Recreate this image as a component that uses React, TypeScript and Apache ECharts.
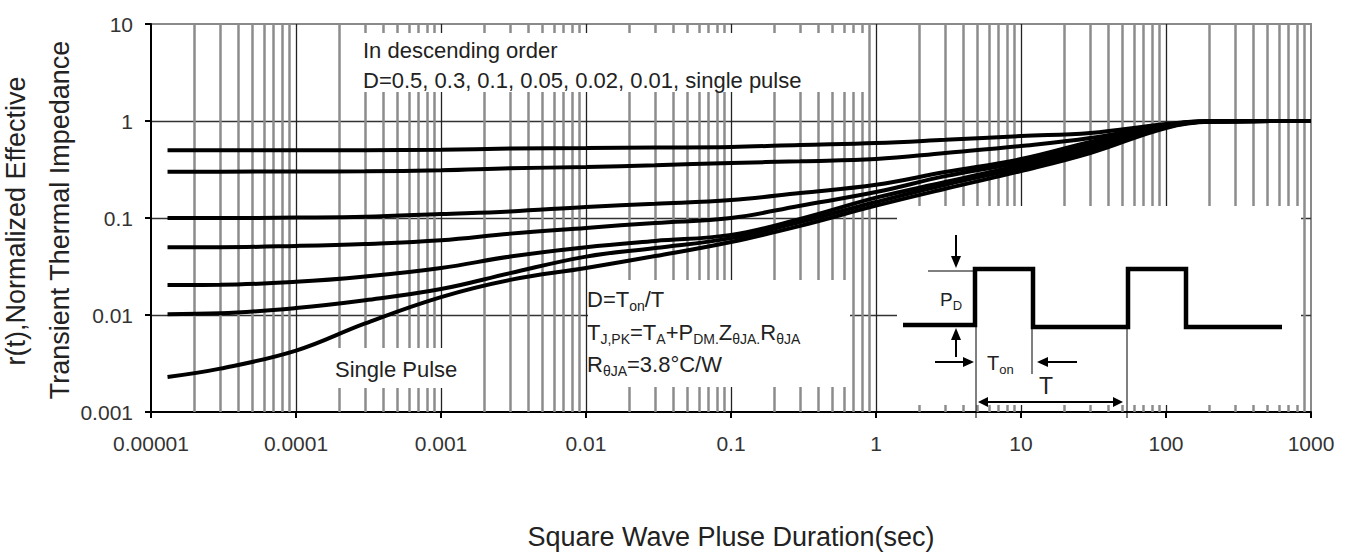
import React, { useEffect, useRef } from "react";
import * as echarts from "echarts";

// ---- data ----
const T = [1.3e-5, 3e-5, 1e-4, 3e-4, 1e-3, 3e-3, 1e-2, 3e-2, 0.1, 0.3, 1, 3, 10, 30, 100, 200, 1000];
const D05 = [0.5, 0.5, 0.5, 0.5, 0.505, 0.52, 0.527, 0.533, 0.54, 0.566, 0.593, 0.64, 0.7, 0.752, 0.93, 1.0, 1.0];
const D03 = [0.3, 0.3, 0.302, 0.303, 0.31, 0.325, 0.336, 0.35, 0.369, 0.385, 0.405, 0.468, 0.552, 0.668, 0.91, 0.99, 1.0];
const D01 = [0.1, 0.1, 0.101, 0.103, 0.11, 0.117, 0.13, 0.14, 0.153, 0.181, 0.22, 0.298, 0.405, 0.608, 0.91, 0.99, 1.0];
const D005 = [0.05, 0.05, 0.0515, 0.054, 0.059, 0.069, 0.079, 0.089, 0.1, 0.134, 0.185, 0.27, 0.378, 0.566, 0.89, 0.99, 1.0];
const D002 = [0.0204, 0.0205, 0.022, 0.025, 0.0305, 0.04, 0.05, 0.058, 0.067, 0.098, 0.162, 0.235, 0.352, 0.527, 0.89, 0.99, 1.0];
const D001 = [0.0102, 0.0104, 0.0118, 0.0142, 0.0185, 0.027, 0.04, 0.049, 0.062, 0.091, 0.146, 0.22, 0.33, 0.5, 0.867, 0.99, 1.0];
const SINGLE = [0.0023, 0.0028, 0.0043, 0.0082, 0.0153, 0.023, 0.0305, 0.0405, 0.0566, 0.083, 0.134, 0.2, 0.305, 0.468, 0.848, 0.98, 1.0];

const SERIES = [D05, D03, D01, D005, D002, D001, SINGLE];
const SERIES_NAMES = ["D=0.5", "D=0.3", "D=0.1", "D=0.05", "D=0.02", "D=0.01", "Single Pulse"];

const X_TICKS = ["0.00001", "0.0001", "0.001", "0.01", "0.1", "1", "10", "100", "1000"];
const Y_TICKS = ["0.001", "0.01", "0.1", "1", "10"];

const FONT = "Liberation Sans, Arial, sans-serif";

function labelFor(list: string[]) {
  return (v: number) => {
    const lv = Math.log10(v);
    const f = list.find((s) => Math.abs(Math.log10(Number(s)) - lv) < 1e-6);
    return f ?? "";
  };
}

export default function App() {
  const ref = useRef<HTMLDivElement>(null);
  useEffect(() => {
    document.body.style.margin = "0";
    if (!ref.current) return;
    const chart = echarts.init(ref.current, undefined, { renderer: "svg" });

    const minorX: number[] = [];
    for (let i = 0; i < X_TICKS.length - 1; i++) {
      const d = Number(X_TICKS[i]);
      for (let m = 2; m <= 9; m++) minorX.push(m * d);
    }

    const txt = (text: string, x: number, y: number, fontSize: number, extra: any = {}) => ({
      type: "text",
      x,
      y,
      z: 6,
      silent: true,
      style: {
        text,
        fontSize,
        fontFamily: FONT,
        fill: "#222",
        align: "left",
        verticalAlign: "middle",
        ...extra,
      },
    });
    const rich = (fs: number, ss: number) => ({
      m: { fontSize: fs, lineHeight: fs + 6, fontFamily: FONT, fill: "#222", color: "#222" },
      s: { fontSize: ss, lineHeight: 12, verticalAlign: "bottom", fontFamily: FONT, fill: "#222", color: "#222" },
    });
    const line = (x1: number, y1: number, x2: number, y2: number, w: number) => ({
      type: "line",
      z: 6,
      silent: true,
      shape: { x1, y1, x2, y2 },
      style: { stroke: "#000", lineWidth: w },
    });
    const tri = (pts: number[][]) => ({
      type: "polygon",
      z: 6,
      silent: true,
      shape: { points: pts },
      style: { fill: "#000" },
    });
    const box = (x: number, y: number, width: number, height: number) => ({
      type: "rect",
      z: 3,
      silent: true,
      shape: { x, y, width, height },
      style: { fill: "#fff" },
    });

    const option: any = {
      animation: false,
      grid: {
        left: 151,
        right: 44,
        top: 24,
        bottom: 140,
        show: true,
        borderColor: "#8a8a8a",
        borderWidth: 2,
        backgroundColor: "transparent",
      },
      xAxis: {
        type: "log",
        logBase: 10,
        min: 1e-5,
        max: 1000,
        splitNumber: 8,
        axisLine: { show: true, lineStyle: { color: "#000", width: 2 } },
        axisTick: { show: true, length: 6, lineStyle: { color: "#000", width: 2 } },
        axisLabel: { fontSize: 21, color: "#333", margin: 21, fontFamily: FONT, formatter: labelFor(X_TICKS) },
        splitLine: { show: true, showMinLine: false, showMaxLine: false, lineStyle: { color: "#222", width: 1.3 } },
      },
      yAxis: {
        type: "log",
        logBase: 10,
        min: 0.001,
        max: 10,
        splitNumber: 4,
        axisLine: { show: true, lineStyle: { color: "#000", width: 2 } },
        axisTick: { show: true, length: 6, lineStyle: { color: "#000", width: 2 } },
        axisLabel: { fontSize: 21, color: "#333", margin: 18, fontFamily: FONT, formatter: labelFor(Y_TICKS) },
        splitLine: { show: true, showMinLine: false, showMaxLine: false, lineStyle: { color: "#333", width: 1.3 } },
      },
      series: [
        {
          type: "line",
          name: "minor-grid",
          z: 1,
          silent: true,
          symbol: "none",
          data: [],
          lineStyle: { width: 0 },
          markLine: {
            z: 1,
            silent: true,
            precision: 12,
            symbol: ["none", "none"],
            label: { show: false },
            emphasis: { disabled: true },
            lineStyle: { color: "#8c8c8c", width: 2.5, type: "solid" },
            data: minorX.map((v) => ({ xAxis: v })),
          },
        },
        ...SERIES.map((vals, i) => ({
          type: "line",
          name: SERIES_NAMES[i],
          z: 5,
          silent: true,
          symbol: "none",
          smooth: 0.4,
          lineStyle: { color: "#000", width: 4 },
          data: T.map((t, j) => [t, vals[j]]),
        })),
      ],
      graphic: [
        box(352, 33, 514, 59),
        box(318, 348, 140, 40),
        box(588, 280, 262, 107),
        box(897, 206, 404, 199),

        txt("In descending order", 363, 50, 22),
        txt("D=0.5, 0.3, 0.1, 0.05, 0.02, 0.01, single pulse", 363, 80, 22),
        txt("Single Pulse", 335, 369, 22),

        txt("{m|D=T}{s|on}{m|/T}", 587, 299, 22, { rich: rich(22, 14) }),
        txt("{m|T}{s|J,PK}{m|=T}{s|A}{m|+P}{s|DM.}{m|Z}{s|θJA.}{m|R}{s|θJA}", 587, 332, 22, { rich: rich(22, 14) }),
        txt("{m|R}{s|θJA}{m|=3.8°C/W}", 587, 364, 22, { rich: rich(22, 14) }),

        // pulse diagram
        {
          type: "polyline",
          z: 6,
          silent: true,
          shape: {
            points: [
              [903, 325], [975, 325], [975, 269], [1033, 269], [1033, 327], [1128, 327],
              [1128, 269], [1186, 269], [1186, 327], [1282, 327],
            ],
          },
          style: { stroke: "#000", lineWidth: 4.5, fill: null, lineJoin: "miter" },
        },
        line(928, 271, 975, 271, 1),
        line(976, 327, 976, 418, 1),
        line(1032, 327, 1032, 374, 1),
        line(1127, 327, 1127, 418, 1),
        line(956, 235, 956, 258, 2),
        tri([[951, 256], [961, 256], [956, 268]]),
        line(956, 357, 956, 338, 2),
        tri([[951, 340], [961, 340], [956, 328]]),
        line(935, 362, 965, 362, 2),
        tri([[963, 357], [963, 367], [974, 362]]),
        line(1077, 362, 1046, 362, 2),
        tri([[1048, 357], [1048, 367], [1037, 362]]),
        line(986, 402, 1115, 402, 2),
        tri([[988, 397], [988, 407], [978, 402]]),
        tri([[1113, 397], [1113, 407], [1123, 402]]),
        txt("{m|P}{s|D}", 940, 299, 19, { rich: rich(19, 13) }),
        txt("{m|T}{s|on}", 987, 363, 20, { rich: rich(20, 13) }),
        txt("T", 1046, 386, 23, { align: "center" }),

        // axis titles
        { ...txt("r(t),Normalized Effective", 16, 221, 27, { align: "center" }), rotation: Math.PI / 2 },
        { ...txt("Transient Thermal Impedance", 60, 220, 27, { align: "center" }), rotation: Math.PI / 2 },
        txt("Square Wave Pluse Duration(sec)", 731, 537, 27, { align: "center" }),
      ],
    };

    chart.setOption(option);
    return () => chart.dispose();
  }, []);

  return <div ref={ref} style={{ position: "absolute", left: 0, top: 0, width: 1355, height: 552 }} />;
}
